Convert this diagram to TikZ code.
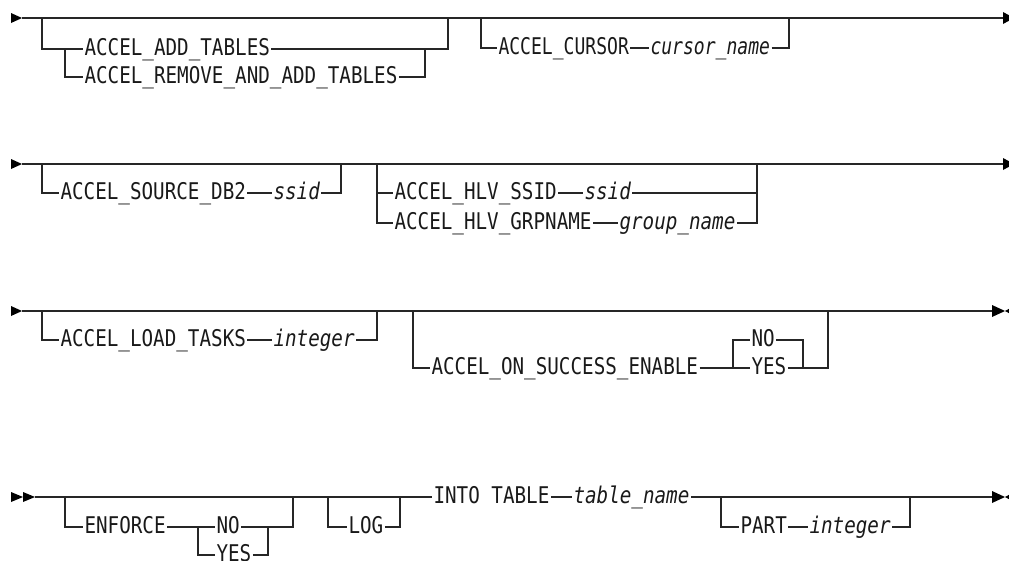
\documentclass[tikz,border=0pt]{standalone}
\usepackage{fontspec}
\newfontfamily\rrfont[FakeStretch=0.837]{DejaVu Sans Mono}
\newfontfamily\rrnarrow[FakeStretch=0.785]{DejaVu Sans Mono}
\tikzset{
  rail/.style={line width=1.1pt, draw=black!85},
  kw/.style={font=\rrfont\fontsize{23}{25}\selectfont, inner sep=0pt, outer sep=1.5pt, anchor=base west, text=black!90},
  var/.style={kw, font=\rrfont\itshape\fontsize{23}{25}\selectfont},
  kwn/.style={kw, font=\rrnarrow\fontsize{23}{25}\selectfont},
  varn/.style={kw, font=\rrnarrow\itshape\fontsize{23}{25}\selectfont},
  tipfill/.style={fill=black}
}
\begin{document}
\begin{tikzpicture}[x=1pt,y=-1pt]
\useasboundingbox (0,0) rectangle (1009,560);
% ---------------- Row 1 ----------------
\coordinate (r1s) at (22,18); \coordinate (r1e) at (1003,18);
\fill[tipfill] (11,13) -- (r1s) -- (11,23) -- cycle;
\fill[tipfill] (1003,12) -- (1014,18) -- (1003,24) -- cycle;
\draw[rail] (r1s) -- (r1e);
\coordinate (a1) at (42,18); \coordinate (a2) at (42,49);
\coordinate (a3) at (65,49); \coordinate (a4) at (65,77);
\coordinate (b1) at (448,18); \coordinate (b3) at (425,49);
\node[kw] (add) at (83,55.5) {ACCEL\_ADD\_TABLES};
\node[kw] (rem) at (83,83.5) {ACCEL\_REMOVE\_AND\_ADD\_TABLES};
\draw[rail] (a1) |- (add.west|-a2);
\draw[rail] (a3) |- (rem.west|-a4);
\draw[rail] (add.east|-a2) -| (b1);
\draw[rail] (rem.east|-a4) -| (b3);
\coordinate (c1) at (481,18); \coordinate (c2) at (481,48); \coordinate (d1) at (789,18);
\node[kwn] (cur) at (497,54.5) {ACCEL\_CURSOR};
\node[varn] (curn) at (649,54.5) {cursor\_name};
\draw[rail] (c1) |- (cur.west|-c2);
\draw[rail] (cur.east|-c2) -- (curn.west|-c2);
\draw[rail] (curn.east|-c2) -| (d1);
% ---------------- Row 2 ----------------
\coordinate (r2s) at (22,164); \coordinate (r2e) at (1003,164);
\fill[tipfill] (11,159) -- (r2s) -- (11,169) -- cycle;
\fill[tipfill] (1003,158) -- (1014,164) -- (1003,170) -- cycle;
\draw[rail] (r2s) -- (r2e);
\coordinate (e1) at (42,164); \coordinate (e2) at (42,193); \coordinate (f1) at (341,164);
\node[kw] (src) at (59,199.5) {ACCEL\_SOURCE\_DB2};
\node[var] (srcv) at (272,199.5) {ssid};
\draw[rail] (e1) |- (src.west|-e2);
\draw[rail] (src.east|-e2) -- (srcv.west|-e2);
\draw[rail] (srcv.east|-e2) -| (f1);
\coordinate (g1) at (377,164); \coordinate (g2) at (377,193); \coordinate (g3) at (377,223);
\coordinate (h1) at (757,164); \coordinate (h2) at (757,193);
\node[kw] (hs) at (393,199.5) {ACCEL\_HLV\_SSID};
\node[var] (hsv) at (583,199.5) {ssid};
\node[kw] (hg) at (393,229.5) {ACCEL\_HLV\_GRPNAME};
\node[var] (hgv) at (618,229.5) {group\_name};
\draw[rail] (g1) |- (hs.west|-g2);
\draw[rail] (g2) |- (hg.west|-g3);
\draw[rail] (hs.east|-g2) -- (hsv.west|-g2);
\draw[rail] (hg.east|-g3) -- (hgv.west|-g3);
\draw[rail] (hsv.east|-g2) -| (h1);
\draw[rail] (hgv.east|-g3) -| (h2);
% ---------------- Row 3 ----------------
\coordinate (r3s) at (22,311); \coordinate (r3e) at (992,311);
\fill[tipfill] (11,306) -- (r3s) -- (11,316) -- cycle;
\fill[tipfill] (992,305) -- (1005,311) -- (992,317) -- cycle;
\fill[tipfill] (1005,311) -- (1016,305) -- (1016,317) -- cycle;
\draw[rail] (r3s) -- (r3e);
\coordinate (i1) at (42,311); \coordinate (i2) at (42,340); \coordinate (j1) at (377,311);
\node[kw] (load) at (59,346.5) {ACCEL\_LOAD\_TASKS};
\node[var] (loadv) at (272,346.5) {integer};
\draw[rail] (i1) |- (load.west|-i2);
\draw[rail] (load.east|-i2) -- (loadv.west|-i2);
\draw[rail] (loadv.east|-i2) -| (j1);
\coordinate (l1) at (413,311); \coordinate (l2) at (413,368);
\coordinate (m1) at (733,368); \coordinate (m2) at (733,340);
\coordinate (n2) at (803,368); \coordinate (o1) at (828,311);
\node[kw] (on) at (430,374.5) {ACCEL\_ON\_SUCCESS\_ENABLE};
\node[kw] (ono) at (750,346.5) {NO};
\node[kw] (oyes) at (750,374.5) {YES};
\draw[rail] (l1) |- (on.west|-l2);
\draw[rail] (on.east|-l2) -- (oyes.west|-l2);
\draw[rail] (m1) |- (ono.west|-m2);
\draw[rail] (ono.east|-m2) -| (n2);
\draw[rail] (oyes.east|-l2) -| (o1);
% ---------------- Row 4 ----------------
\coordinate (r4s) at (35,497); \coordinate (r4e) at (992,497);
\fill[tipfill] (11,492) -- (23,497) -- (11,502) -- cycle;
\fill[tipfill] (23,492) -- (r4s) -- (23,502) -- cycle;
\fill[tipfill] (992,491) -- (1005,497) -- (992,503) -- cycle;
\fill[tipfill] (1005,497) -- (1016,491) -- (1016,503) -- cycle;
\node[kw] (into) at (432,503.5) {INTO TABLE};
\node[var] (tabn) at (572,503.5) {table\_name};
\draw[rail] (r4s) -- (into.west|-r4s);
\draw[rail] (tabn.east|-r4s) -- (r4e);
\draw[rail] (into.east|-r4s) -- (tabn.west|-r4s);
\coordinate (p1) at (65,497); \coordinate (p2) at (65,527);
\coordinate (q1) at (198,527); \coordinate (q2) at (198,555);
\coordinate (s1) at (268,527); \coordinate (t1) at (293,497);
\node[kw] (enf) at (83,533.5) {ENFORCE};
\node[kw] (eno) at (215,533.5) {NO};
\node[kw] (eyes) at (215,561.5) {YES};
\draw[rail] (p1) |- (enf.west|-p2);
\draw[rail] (enf.east|-p2) -- (eno.west|-p2);
\draw[rail] (q1) |- (eyes.west|-q2);
\draw[rail] (eno.east|-p2) -| (t1);
\draw[rail] (eyes.east|-q2) -| (s1);
\coordinate (u1) at (328,497); \coordinate (u2) at (328,527); \coordinate (v1) at (400,497);
\node[kw] (log) at (347,533.5) {LOG};
\draw[rail] (u1) |- (log.west|-u2);
\draw[rail] (log.east|-u2) -| (v1);
\coordinate (w1) at (721,497); \coordinate (w2) at (721,527); \coordinate (x1) at (910,497);
\node[kw] (part) at (739,533.5) {PART};
\node[var] (partv) at (808,533.5) {integer};
\draw[rail] (w1) |- (part.west|-w2);
\draw[rail] (part.east|-w2) -- (partv.west|-w2);
\draw[rail] (partv.east|-w2) -| (x1);
\end{tikzpicture}
\end{document}
